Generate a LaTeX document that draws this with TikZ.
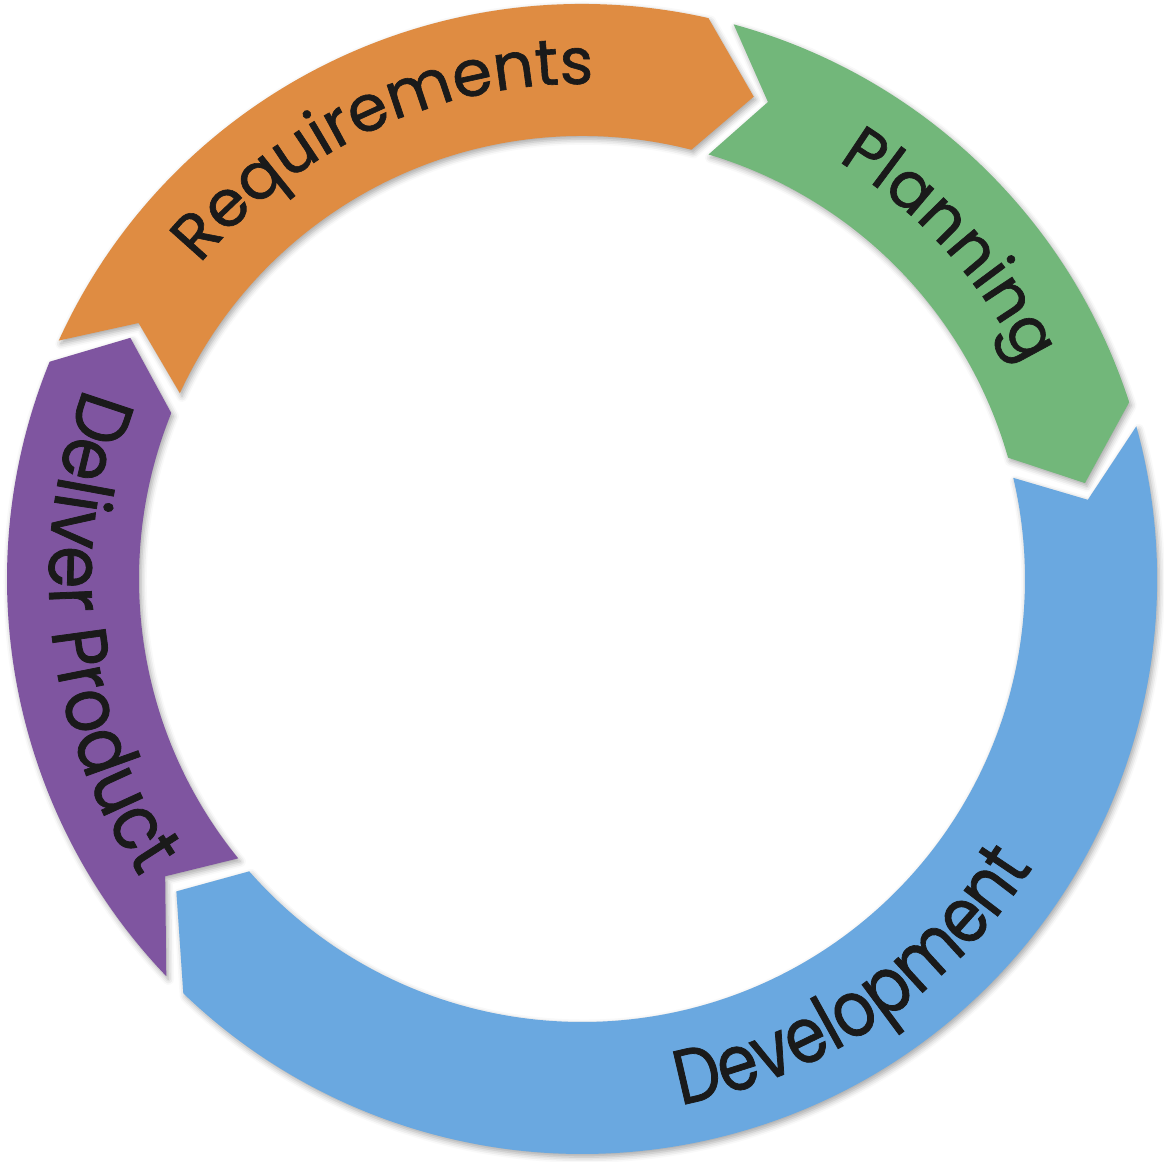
\documentclass[tikz,border=0pt]{standalone}
\usepackage{fontspec}
\usepackage{tikz}
\usetikzlibrary{decorations.text, shadows.blur}
\newfontfamily\cwfont[FakeBold=1]{Poppins}
\newfontfamily\ccwfont[FakeStretch=0.84, FakeBold=1]{Poppins}
\newfontfamily\delfont[FakeStretch=0.88, FakeBold=1]{Poppins}
\definecolor{reqorange}{RGB}{223, 140, 66}
\definecolor{plangreen}{RGB}{114, 183, 122}
\definecolor{devblue}{RGB}{106, 168, 224}
\definecolor{delpurple}{RGB}{127, 85, 160}
\definecolor{textdark}{RGB}{26, 26, 26}
\tikzset{
  segment/.style={blur shadow={shadow xshift=0.6pt, shadow yshift=-0.9pt, shadow blur radius=1.6pt, shadow opacity=35}},
  cwlabel/.style={decorate, decoration={text along path, text align=center,
    text={|\cwfont\fontsize{18.3}{22}\selectfont\color{textdark}|#1}}},
  ccwlabel/.style 2 args={decorate, decoration={text along path, text align=center,
    text={|#1\fontsize{22}{26}\selectfont\color{textdark}|#2}}}
}

\begin{document}
\begin{tikzpicture}[scale=1.0]

  \useasboundingbox (-5.82, -5.82) rectangle (5.82, 5.79);

  % requirements
  \path[segment, fill=reqorange] (155.5:5.75) arc[start angle=155.5, end angle=77.3, radius=5.75]
    -- (70.4:5.12) -- (75.7:4.43) arc[start angle=75.7, end angle=155.2, radius=4.43]
    -- (150:5.12) -- cycle;

  % planning
  \path[segment, fill=plangreen] (74.7:5.75) arc[start angle=74.7, end angle=17.9, radius=5.75]
    -- (10.8:5.12) -- (15.9:4.43) arc[start angle=15.9, end angle=73.4, radius=4.43]
    -- (68.7:5.12) -- cycle;

  % development
  \path[segment, fill=devblue] (15.4:5.75) arc[start angle=15.4, end angle=-133.9, radius=5.75]
    -- (-142.4:5.12) -- (-138.7:4.43) arc[start angle=-138.7, end angle=13.2, radius=4.43]
    -- (8.9:5.12) -- cycle;

  % deliver product
  \path[segment, fill=delpurple] (-136.3:5.75) arc[start angle=-136.3, end angle=-202.2, radius=5.75]
    -- (-208.1:5.12) -- (-202:4.43) arc[start angle=-202, end angle=-140.9, radius=4.43]
    -- (-144.5:5.12) -- cycle;

  % labels along the ring
  \path[cwlabel=Requirements] (159.6:4.95) arc[start angle=159.6, end angle=69.6, radius=4.95];
  \path[cwlabel=Planning] (72.2:4.90) arc[start angle=72.2, end angle=12.2, radius=4.90];
  \path[ccwlabel={\ccwfont}{Development}] (-91:5.35) arc[start angle=-91, end angle=-21, radius=5.35];
  \path[ccwlabel={\delfont}{Deliver Product}] (151.5:5.33) arc[start angle=151.5, end angle=221.5, radius=5.33];

\end{tikzpicture}
\end{document}
